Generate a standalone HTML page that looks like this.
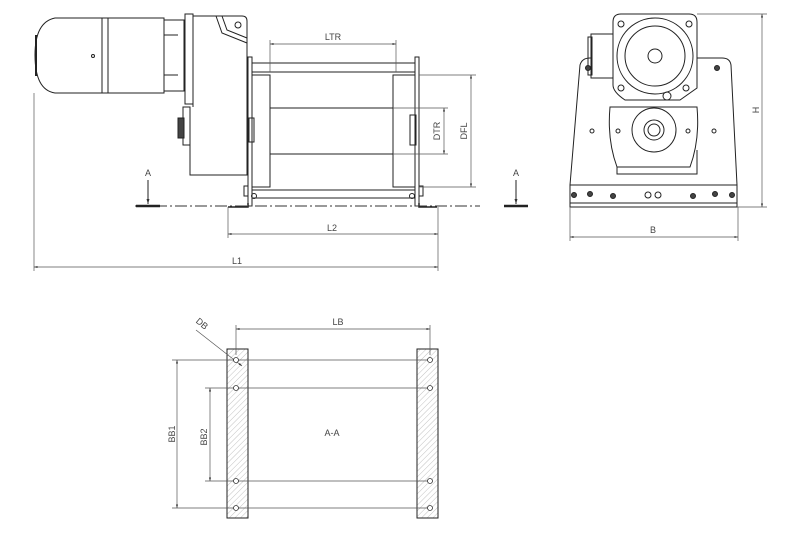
<!DOCTYPE html>
<html><head><meta charset="utf-8"><style>
html,body{margin:0;padding:0;background:#fff}
svg{display:block}
text{font-family:"Liberation Sans",sans-serif;fill:#444;font-size:9px}
</style></head><body>
<svg width="800" height="533" viewBox="0 0 800 533" xmlns="http://www.w3.org/2000/svg">
<defs>
<marker id="ar" viewBox="0 0 10 10" refX="10" refY="5" markerWidth="7" markerHeight="5" orient="auto-start-reverse"><path d="M0,2 L10,5 L0,8z" fill="#333"/></marker>
<pattern id="hatch" width="4" height="4" patternUnits="userSpaceOnUse" patternTransform="rotate(45)"><line x1="0" y1="0" x2="0" y2="4" stroke="#999" stroke-width="0.6"/></pattern>
</defs>
<g fill="none" stroke="#222" stroke-width="1">
<path d="M102,18 L55,18 Q35,22 35,55 Q35,90 55,93 L102,93 Z" fill="#fff"/>
<line x1="36" y1="35" x2="36" y2="76" stroke-width="2"/>
<rect x="102" y="18" width="62" height="75"/>
<line x1="108" y1="18" x2="108" y2="93"/>
<circle cx="93" cy="56" r="1.5"/>
<rect x="164" y="20" width="20" height="71"/>
<line x1="164" y1="35" x2="178" y2="35"/><line x1="164" y1="75" x2="178" y2="75"/>
<rect x="185" y="14" width="8" height="90"/>
<path d="M193,16 L242,16 Q247,16 247,21 L247,175 L190,175 L190,107 L183,107 L183,145 L190,145" />
<path d="M193,16 L193,107"/>
<path d="M216,16 L222,33 L247,43"/><path d="M222,16 L227,30 L247,38"/>
<circle cx="238" cy="25" r="3"/>
<rect x="178" y="118" width="6" height="20" fill="#444"/>
<rect x="248" y="57" width="4" height="149"/>
<rect x="415" y="57" width="4" height="149"/>
<rect x="252" y="63" width="163" height="9"/>
<rect x="252" y="190" width="163" height="8"/>
<rect x="252" y="75" width="18" height="112"/>
<rect x="393" y="75" width="22" height="112"/>
<line x1="270" y1="108" x2="393" y2="108"/><line x1="270" y1="154" x2="393" y2="154"/>
<rect x="249" y="118" width="5" height="24"/><rect x="410" y="115" width="6" height="30"/>
<path d="M228,207 L248,207 L248,203 M419,203 L419,207 L437,207" stroke-width="1.5"/>
<rect x="244" y="186" width="4" height="10"/><rect x="419" y="186" width="4" height="10"/>
<circle cx="254" cy="196" r="2.5"/><circle cx="412" cy="196" r="2.5"/>
</g>
<line x1="135" y1="206" x2="480" y2="206" stroke="#333" stroke-width="1" stroke-dasharray="12,3,2,3"/>
<g stroke="#222">
<line x1="136" y1="206" x2="160" y2="206" stroke-width="2.5"/>
<line x1="148" y1="180" x2="148" y2="204" marker-end="url(#ar)"/>
<line x1="504" y1="206" x2="528" y2="206" stroke-width="2.5"/>
<line x1="516" y1="180" x2="516" y2="204" marker-end="url(#ar)"/>
</g>
<text x="148" y="176" text-anchor="middle" font-size="11">A</text>
<text x="516" y="176" text-anchor="middle" font-size="11">A</text>
<g stroke="#555" stroke-width="0.7" fill="none">
<line x1="270" y1="40" x2="270" y2="72"/><line x1="396" y1="40" x2="396" y2="72"/>
<line x1="270" y1="44" x2="396" y2="44" marker-start="url(#ar)" marker-end="url(#ar)"/>
<line x1="419" y1="75" x2="476" y2="75"/><line x1="419" y1="187" x2="476" y2="187"/>
<line x1="471" y1="75" x2="471" y2="187" marker-start="url(#ar)" marker-end="url(#ar)"/>
<line x1="393" y1="108" x2="448" y2="108"/><line x1="393" y1="154" x2="448" y2="154"/>
<line x1="444" y1="108" x2="444" y2="154" marker-start="url(#ar)" marker-end="url(#ar)"/>
<line x1="228" y1="207" x2="228" y2="238"/><line x1="438" y1="207" x2="438" y2="271"/>
<line x1="228" y1="234" x2="438" y2="234" marker-start="url(#ar)" marker-end="url(#ar)"/>
<line x1="34" y1="93" x2="34" y2="271"/>
<line x1="34" y1="267" x2="438" y2="267" marker-start="url(#ar)" marker-end="url(#ar)"/>
</g>
<text x="333" y="40" text-anchor="middle">LTR</text>
<text x="332" y="231" text-anchor="middle">L2</text>
<text x="237" y="264" text-anchor="middle">L1</text>
<text transform="translate(440,131) rotate(-90)" text-anchor="middle">DTR</text>
<text transform="translate(467,131) rotate(-90)" text-anchor="middle">DFL</text>
<g fill="none" stroke="#222" stroke-width="1">
<path d="M570,185 L580,65 Q582,58 590,58 L610,58 M697,58 L722,58 Q730,58 731,65 L737,185"/>
<rect x="570" y="185" width="167" height="22"/>
<line x1="570" y1="203" x2="737" y2="203"/>
<path d="M613,22 Q613,14 621,14 L689,14 Q697,14 697,22 L697,88 L680,100 L625,100 Q613,92 613,85 Z" fill="#fff"/>
<circle cx="655" cy="56" r="38"/><circle cx="655" cy="56" r="30"/><circle cx="655" cy="56" r="7"/>
<circle cx="621" cy="24" r="3"/><circle cx="689" cy="24" r="3"/><circle cx="621" cy="88" r="3"/><circle cx="686" cy="88" r="3"/>
<circle cx="667" cy="96" r="4"/>
<rect x="591" y="34" width="22" height="44" fill="#fff"/><rect x="588" y="37" width="4" height="38"/>
<path d="M610,107 L697,107 Q700,140 690,167 L617,167 Q607,140 610,107 Z"/>
<path d="M617,167 L617,174 L697,174 L697,150"/>
<circle cx="654" cy="130" r="22"/><circle cx="654" cy="130" r="10"/><circle cx="654" cy="130" r="6"/>
<circle cx="618" cy="131" r="2"/><circle cx="688" cy="131" r="2"/><circle cx="592" cy="131" r="2"/><circle cx="714" cy="131" r="2"/>
<circle cx="588" cy="68" r="2.5" fill="#444"/><circle cx="717" cy="68" r="2.5" fill="#444"/>
<g fill="#444"><circle cx="574" cy="195" r="2.5"/><circle cx="590" cy="194" r="2.5"/><circle cx="613" cy="196" r="2.5"/><circle cx="693" cy="196" r="2.5"/><circle cx="715" cy="194" r="2.5"/><circle cx="732" cy="195" r="2.5"/></g>
<circle cx="648" cy="195" r="3"/><circle cx="658" cy="195" r="3"/>
</g>
<g stroke="#555" stroke-width="0.7">
<line x1="697" y1="14" x2="767" y2="14"/><line x1="737" y1="207" x2="767" y2="207"/>
<line x1="762" y1="14" x2="762" y2="207" marker-start="url(#ar)" marker-end="url(#ar)"/>
<line x1="570" y1="207" x2="570" y2="241"/><line x1="738" y1="207" x2="738" y2="241"/>
<line x1="570" y1="237" x2="738" y2="237" marker-start="url(#ar)" marker-end="url(#ar)"/>
</g>
<text x="653" y="233" text-anchor="middle">B</text>
<text transform="translate(759,110) rotate(-90)" text-anchor="middle">H</text>
<rect x="227" y="349" width="21" height="169" fill="url(#hatch)" stroke="#222"/>
<rect x="417" y="349" width="21" height="169" fill="url(#hatch)" stroke="#222"/>
<g stroke="#555" stroke-width="0.7" fill="none">
<line x1="172" y1="360" x2="430" y2="360"/><line x1="205" y1="388" x2="430" y2="388"/>
<line x1="205" y1="481" x2="430" y2="481"/><line x1="172" y1="508" x2="430" y2="508"/>
<line x1="177" y1="360" x2="177" y2="508" marker-start="url(#ar)" marker-end="url(#ar)"/>
<line x1="210" y1="388" x2="210" y2="481" marker-start="url(#ar)" marker-end="url(#ar)"/>
<line x1="236" y1="325" x2="236" y2="355"/><line x1="430" y1="325" x2="430" y2="355"/>
<line x1="236" y1="329" x2="430" y2="329" marker-start="url(#ar)" marker-end="url(#ar)"/>
<line x1="196" y1="330" x2="242" y2="366" marker-end="url(#ar)"/>
</g>
<g fill="#fff" stroke="#333" stroke-width="0.8">
<circle cx="236" cy="360" r="2.5"/><circle cx="236" cy="388" r="2.5"/><circle cx="236" cy="481" r="2.5"/><circle cx="236" cy="508" r="2.5"/>
<circle cx="430" cy="360" r="2.5"/><circle cx="430" cy="388" r="2.5"/><circle cx="430" cy="481" r="2.5"/><circle cx="430" cy="508" r="2.5"/>
</g>
<text x="338" y="325" text-anchor="middle">LB</text>
<text transform="translate(200,326) rotate(40)" text-anchor="middle">DB</text>
<text transform="translate(175,434) rotate(-90)" text-anchor="middle">BB1</text>
<text transform="translate(207,437) rotate(-90)" text-anchor="middle">BB2</text>
<text x="332" y="436" text-anchor="middle" font-size="16">A-A</text>
</svg>
</body></html>
